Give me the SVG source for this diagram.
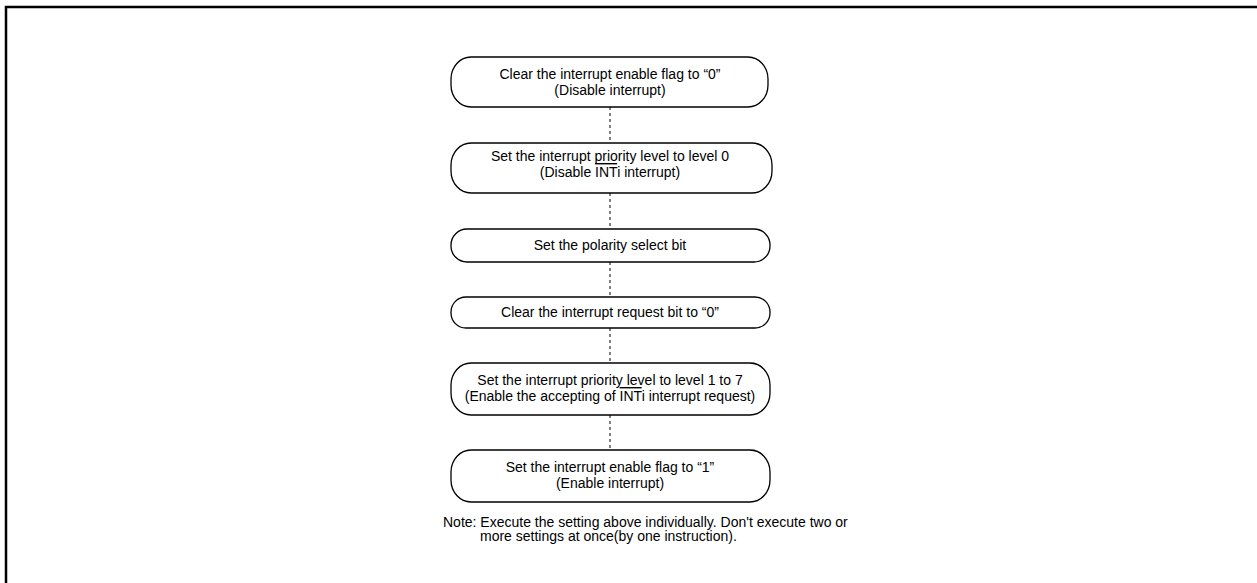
<svg xmlns="http://www.w3.org/2000/svg" width="1257" height="583" viewBox="0 0 1257 583">
<style>
.node{fill:#fff;stroke:#000;stroke-width:1.3}
.t{font-family:"Liberation Sans",Arial,sans-serif;font-size:14px;fill:#000;text-anchor:middle}
.n{font-family:"Liberation Sans",Arial,sans-serif;font-size:14px;fill:#000}
.c{stroke:#000;stroke-width:1;stroke-dasharray:3 3;fill:none}
.ol{text-decoration:overline}
</style>
<rect x="0" y="0" width="1257" height="583" fill="#fff"/>
<rect x="6" y="7" width="1270" height="600" fill="none" stroke="#000" stroke-width="2.5"/>
<g id="connectors">
<line class="c" x1="610" y1="107" x2="610" y2="143"/>
<line class="c" x1="610" y1="193" x2="610" y2="229"/>
<line class="c" x1="610" y1="262" x2="610" y2="297"/>
<line class="c" x1="610" y1="328" x2="610" y2="363"/>
<line class="c" x1="610" y1="415" x2="610" y2="450"/>
</g>
<g id="n1">
<rect class="node" x="451" y="57" width="317" height="50" rx="20" ry="22"/>
<text class="t" x="610" y="79">Clear the interrupt enable flag to “0”</text>
<text class="t" x="610" y="95">(Disable interrupt)</text>
</g>
<g id="n2">
<rect class="node" x="451" y="143" width="321" height="50" rx="20" ry="22"/>
<text class="t" x="610" y="161">Set the interrupt priority level to level 0</text>
<text class="t" x="610" y="177">(Disable <tspan class="ol">INT</tspan>i interrupt)</text>
</g>
<g id="n3">
<rect class="node" x="451" y="229" width="319" height="33" rx="16" ry="16"/>
<text class="t" x="610" y="250">Set the polarity select bit</text>
</g>
<g id="n4">
<rect class="node" x="451" y="297" width="319" height="31" rx="15" ry="15"/>
<text class="t" x="610" y="317">Clear the interrupt request bit to “0”</text>
</g>
<g id="n5">
<rect class="node" x="451" y="363" width="319" height="52" rx="20" ry="22"/>
<text class="t" x="610" y="385">Set the interrupt priority level to level 1 to 7</text>
<text class="t" x="610" y="401">(Enable the accepting of <tspan class="ol">INT</tspan>i interrupt request)</text>
</g>
<g id="n6">
<rect class="node" x="451" y="450" width="319" height="52" rx="20" ry="22"/>
<text class="t" x="610" y="472">Set the interrupt enable flag to “1”</text>
<text class="t" x="610" y="488">(Enable interrupt)</text>
</g>
<g id="note">
<text class="n" x="443" y="527">Note: Execute the setting above individually. Don't execute two or</text>
<text class="n" x="480" y="541">more settings at once(by one instruction).</text>
</g>
</svg>
